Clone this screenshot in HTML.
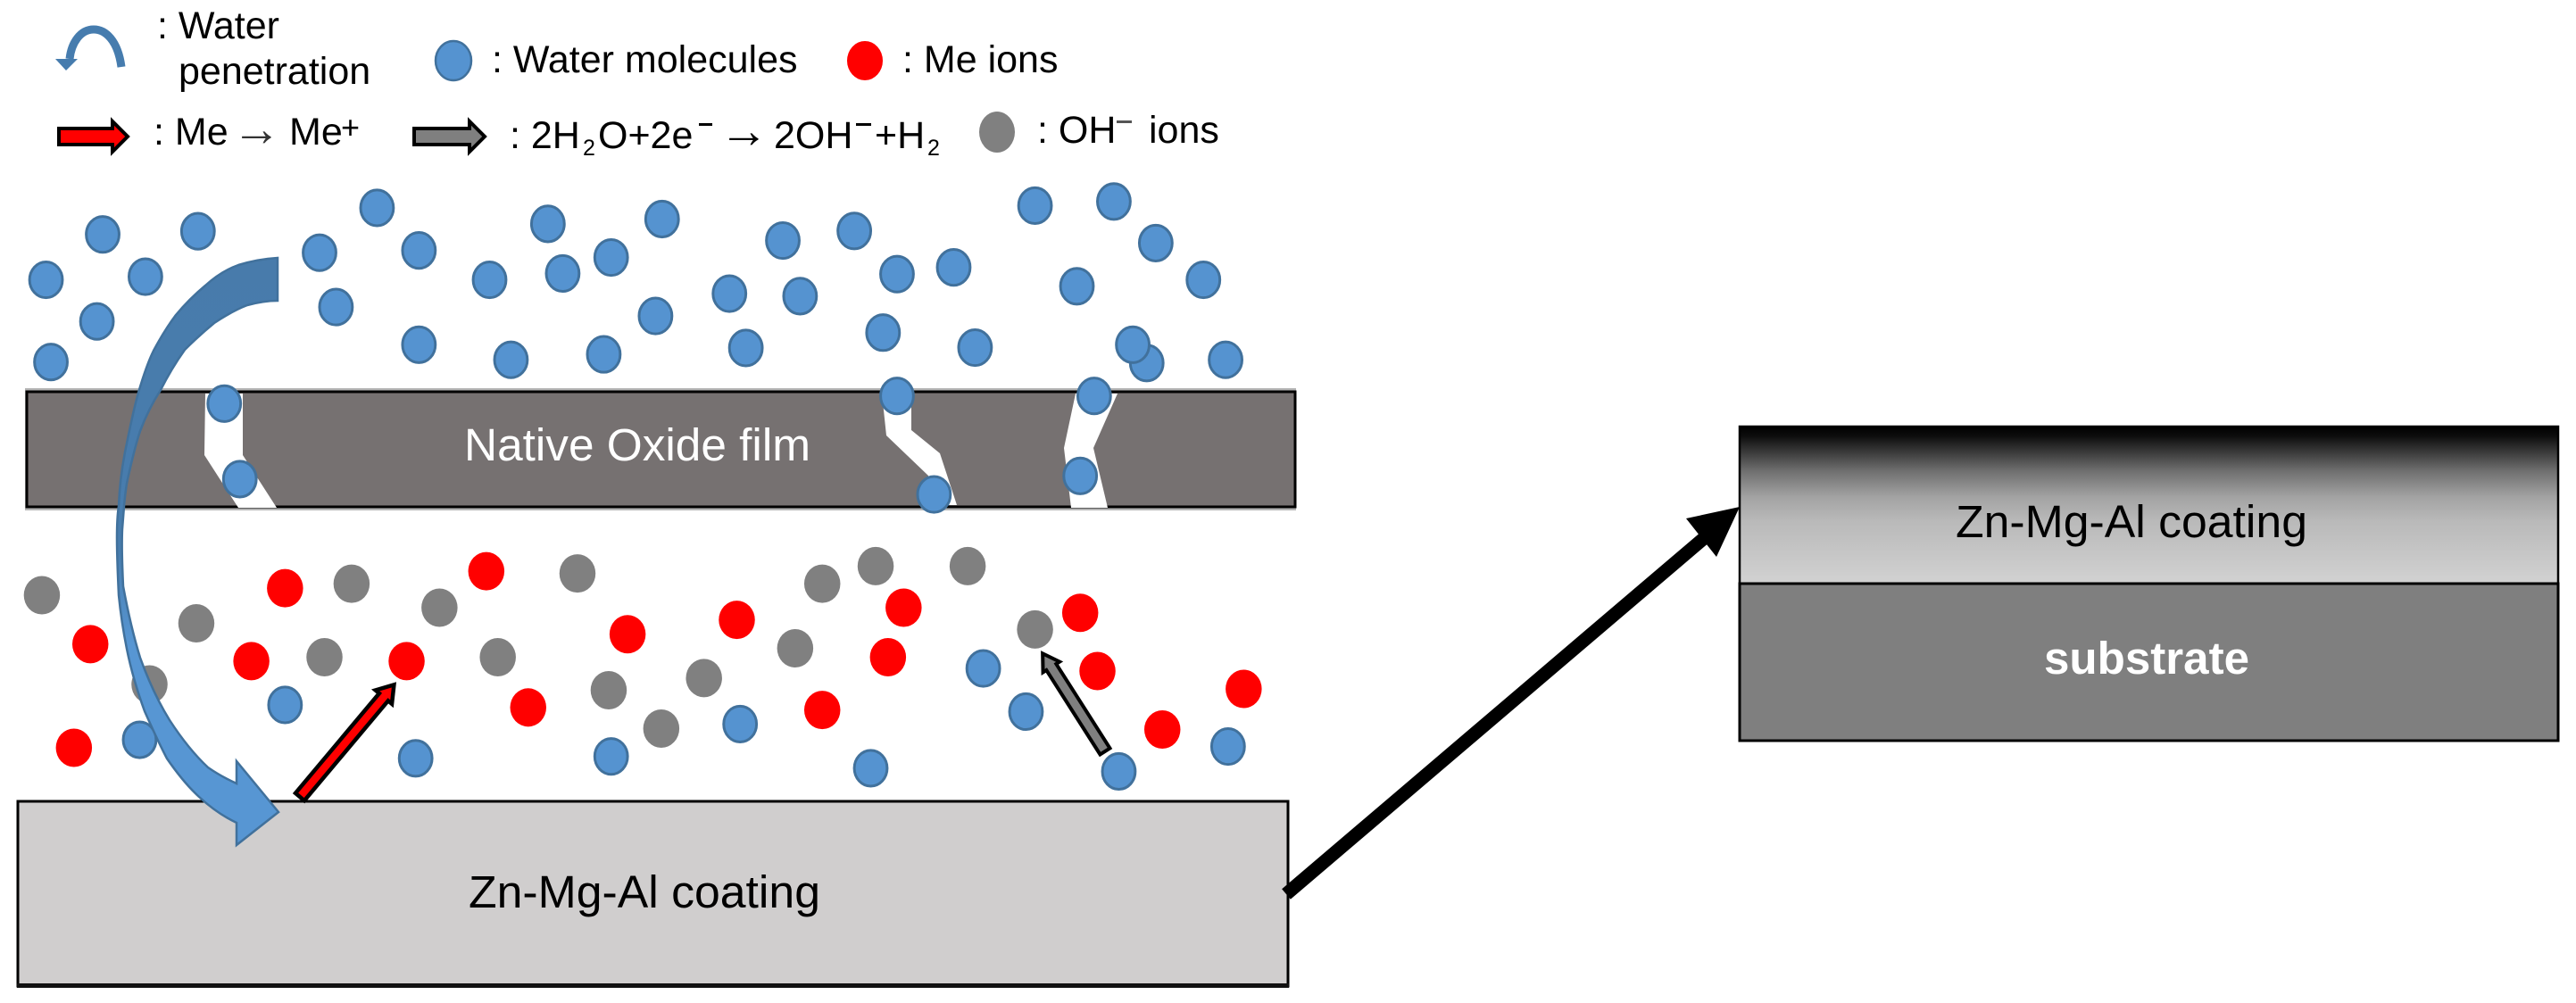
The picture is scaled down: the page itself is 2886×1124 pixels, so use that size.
<!DOCTYPE html>
<html lang="en"><head><meta charset="utf-8"><title>Zn-Mg-Al coating corrosion diagram</title>
<style>
html,body{margin:0;padding:0;background:#fff;width:2886px;height:1124px;overflow:hidden}
svg{display:block}
text{font-family:"Liberation Sans",sans-serif;fill:#000}
.e{vector-effect:non-scaling-stroke}
</style></head><body>
<svg xmlns="http://www.w3.org/2000/svg" width="2886" height="1124" viewBox="0 0 2886 1124">
<defs>
<linearGradient id="cg" x1="0" y1="0" x2="0" y2="1">
<stop offset="0" stop-color="#000"/><stop offset=".06" stop-color="#0d0d0d"/><stop offset=".28" stop-color="#6e6e6e"/><stop offset=".45" stop-color="#a3a3a3"/><stop offset=".6" stop-color="#b9b9b9"/><stop offset="1" stop-color="#d2d2d2"/>
</linearGradient>
<linearGradient id="bg" gradientUnits="userSpaceOnUse" x1="0" y1="288" x2="0" y2="947">
<stop offset="0" stop-color="#487bab"/><stop offset=".5" stop-color="#487dae"/><stop offset=".66" stop-color="#5796d3"/><stop offset="1" stop-color="#5796d3"/>
</linearGradient>
<ellipse id="b" rx="20" ry="56" fill="#5593d0" stroke="#41719c" stroke-width="3" class="e"/>
<ellipse id="r" rx="22" ry="60" fill="#ff0000"/>
<ellipse id="g" rx="22" ry="60" fill="#808080"/>
</defs>

<!-- Native oxide film -->
<rect x="28" y="435" width="1424" height="137" fill="#b5b5b5"/>
<rect x="30" y="439" width="1421" height="129" fill="#767171" stroke="#000" stroke-width="3"/>
<polygon fill="#fff" points="230,441 272,441 272,510 310,569 267,569 229,510"/>
<polygon fill="#fff" points="988,441 1021,441 1021,482 1053,508 1072,566 1043,566 1040,533 993,488"/>
<polygon fill="#fff" points="1205,441 1252,441 1225,502 1241,569 1200,569 1192,502"/>
<text x="714" y="516" font-size="51" text-anchor="middle" textLength="388" lengthAdjust="spacingAndGlyphs" style="fill:#fff">Native Oxide film</text>

<!-- Coating -->
<rect x="20" y="898" width="1423" height="207" fill="#d0cece" stroke="#000" stroke-width="3"/>
<rect x="19" y="1102" width="1425" height="5" fill="#111"/>
<text x="722" y="1017" font-size="51" text-anchor="middle" textLength="394" lengthAdjust="spacingAndGlyphs">Zn-Mg-Al coating</text>

<!-- Particles, upper -->
<g transform="scale(.9203,.3584)">
<use href="#b" x="56" y="875"/><use href="#b" x="125" y="733"/><use href="#b" x="241" y="723"/><use href="#b" x="177" y="865"/><use href="#b" x="118" y="1005"/><use href="#b" x="62" y="1132"/><use href="#b" x="389" y="790"/><use href="#b" x="459" y="650"/><use href="#b" x="510" y="783"/><use href="#b" x="409" y="960"/><use href="#b" x="510" y="1078"/><use href="#b" x="596" y="875"/><use href="#b" x="667" y="700"/><use href="#b" x="685" y="855"/><use href="#b" x="744" y="805"/><use href="#b" x="806" y="685"/><use href="#b" x="798" y="988"/><use href="#b" x="622" y="1125"/><use href="#b" x="735" y="1108"/><use href="#b" x="908" y="1088"/><use href="#b" x="888" y="918"/><use href="#b" x="974" y="926"/><use href="#b" x="953" y="752"/><use href="#b" x="1040" y="722"/><use href="#b" x="1092" y="857"/><use href="#b" x="1161" y="836"/><use href="#b" x="1075" y="1040"/><use href="#b" x="1187" y="1087"/><use href="#b" x="1260" y="643"/><use href="#b" x="1356" y="630"/><use href="#b" x="1407" y="760"/><use href="#b" x="1465" y="875"/><use href="#b" x="1311" y="895"/><use href="#b" x="1396" y="1135"/><use href="#b" x="1379" y="1078"/><use href="#b" x="1492" y="1125"/>
<use href="#b" x="273" y="1262"/><use href="#b" x="292" y="1498"/><use href="#b" x="1092" y="1238"/><use href="#b" x="1137" y="1546"/><use href="#b" x="1332" y="1238"/><use href="#b" x="1315" y="1488"/>
</g>
<!-- Particles, lower -->
<g transform="translate(0,562) scale(.9203,.3584)">
<use href="#g" x="51" y="293"/><use href="#g" x="239" y="381"/><use href="#g" x="428" y="257"/><use href="#g" x="535" y="332"/><use href="#g" x="395" y="487"/><use href="#g" x="606" y="487"/><use href="#g" x="703" y="225"/><use href="#g" x="182" y="572"/><use href="#g" x="741" y="590"/><use href="#g" x="857" y="552"/><use href="#g" x="805" y="710"/><use href="#g" x="968" y="459"/><use href="#g" x="1001" y="257"/><use href="#g" x="1066" y="202"/><use href="#g" x="1178" y="202"/><use href="#g" x="1260" y="400"/>
<use href="#r" x="110" y="446"/><use href="#r" x="347" y="271"/><use href="#r" x="306" y="499"/><use href="#r" x="495" y="499"/><use href="#r" x="592" y="218"/><use href="#r" x="764" y="415"/><use href="#r" x="897" y="370"/><use href="#r" x="643" y="644"/><use href="#r" x="1001" y="652"/><use href="#r" x="1081" y="487"/><use href="#r" x="1100" y="332"/><use href="#r" x="1315" y="348"/><use href="#r" x="1336" y="530"/><use href="#r" x="1415" y="713"/><use href="#r" x="1514" y="586"/><use href="#r" x="90" y="770"/>
<use href="#b" x="170" y="745"/><use href="#b" x="347" y="636"/><use href="#b" x="506" y="803"/><use href="#b" x="744" y="797"/><use href="#b" x="901" y="696"/><use href="#b" x="1060" y="834"/><use href="#b" x="1197" y="522"/><use href="#b" x="1249" y="657"/><use href="#b" x="1362" y="844"/><use href="#b" x="1495" y="766"/>
</g>

<!-- Big curved blue arrow -->
<path fill="url(#bg)" stroke="#41719c" stroke-width="2.5" stroke-linejoin="miter" d="M311,289 C294,290 280,293 267,297 C253,302 242,309 230,320 C218,330 207,341 197,353 C188,365 180,378 172,393 C165,407 160,423 155,440 C150,458 146,477 142,497 C137,520 134,543 133,567 C131,580 131,592 131,603 C131,625 132,645 133,667 C135,687 138,707 142,727 C147,752 154,775 162,797 C170,815 178,833 187,850 C198,866 210,881 223,893 C236,905 250,915 265,922 L265,947 L312,910 L265,853 L265,878 C254,873 243,867 233,860 C217,845 203,827 190,807 C177,786 166,762 157,737 C149,711 143,684 138,657 C137,636 136,614 137,593 L139,567 C140,556 141,546 143,537 C147,519 151,501 157,483 C163,467 171,451 180,437 C188,421 197,406 207,392 C218,381 229,371 240,362 C252,354 264,347 277,342 C288,339 299,337 311,337 Z"/>

<!-- Small reaction arrows -->
<g transform="translate(336,893) rotate(-50)"><polygon points="0,-6.5 146,-6.5 146,-12 164,0 146,12 146,6.5 0,6.5" fill="#ff0000" stroke="#000" stroke-width="4.5"/></g>
<g transform="translate(1238,842) rotate(-122.5)"><polygon points="0,-6.5 112,-6.5 112,-11 130,0 112,11 112,6.5 0,6.5" fill="#7f7f7f" stroke="#000" stroke-width="4"/></g>

<!-- Big black arrow -->
<line x1="1441" y1="1002" x2="1915" y2="598" stroke="#000" stroke-width="15"/>
<polygon points="1949,568 1889,581 1923,624" fill="#000"/>

<!-- Right panel -->
<rect x="1949" y="478" width="917" height="176" fill="url(#cg)"/>
<rect x="1949" y="478" width="917" height="176" fill="none" stroke="#000" stroke-width="2.5"/>
<rect x="1949" y="654" width="917" height="176" fill="#7f7f7f" stroke="#000" stroke-width="3"/>
<text x="2388" y="602" font-size="51" text-anchor="middle" textLength="394" lengthAdjust="spacingAndGlyphs">Zn-Mg-Al coating</text>
<text x="2405" y="755" font-size="51" font-weight="bold" text-anchor="middle" textLength="230" lengthAdjust="spacingAndGlyphs" style="fill:#fff">substrate</text>

<!-- Legend -->
<path d="M136,75 C132,45 118,33 105,33 C90,33 80,48 78,66" fill="none" stroke="#467cae" stroke-width="9"/>
<polygon points="62,66 87,66 74,79" fill="#467cae"/>
<text x="176" y="43" font-size="43">: Water</text>
<text x="200" y="94" font-size="43">penetration</text>
<ellipse cx="508" cy="68" rx="20" ry="22" fill="#5593d0" stroke="#41719c" stroke-width="2.5"/>
<text x="551" y="81" font-size="43">: Water molecules</text>
<ellipse cx="969" cy="68" rx="20" ry="22" fill="#ff0000"/>
<text x="1011" y="81" font-size="43">: Me ions</text>

<polygon points="66,144 126,144 126,136 143,153 126,170 126,162 66,162" fill="#ff0000" stroke="#000" stroke-width="4"/>
<text x="172" y="162" font-size="43">: Me</text>
<text x="260" y="163" font-size="55" style="fill:#333">→</text>
<text x="324" y="162" font-size="43">Me</text>
<text x="382" y="155" font-size="36">+</text>

<polygon points="464,144 526,144 526,136 543,153 526,170 526,162 464,162" fill="#7f7f7f" stroke="#000" stroke-width="4"/>
<text x="571" y="166" font-size="43">: 2H</text>
<text x="653" y="174" font-size="25">2</text>
<text x="670" y="166" font-size="43">O+2e</text>
<rect x="783" y="138" width="15" height="3" fill="#000"/>
<text x="806" y="165" font-size="55">→</text>
<text x="867" y="166" font-size="43">2OH</text>
<rect x="959" y="138" width="17" height="3" fill="#000"/>
<text x="980" y="166" font-size="43">+H</text>
<text x="1039" y="174" font-size="25">2</text>
<ellipse cx="1117" cy="148" rx="20" ry="23" fill="#808080"/>
<text x="1162" y="160" font-size="43">: OH</text>
<rect x="1251" y="135" width="17" height="3" fill="#555"/>
<text x="1287" y="160" font-size="43">ions</text>
</svg>
</body></html>
